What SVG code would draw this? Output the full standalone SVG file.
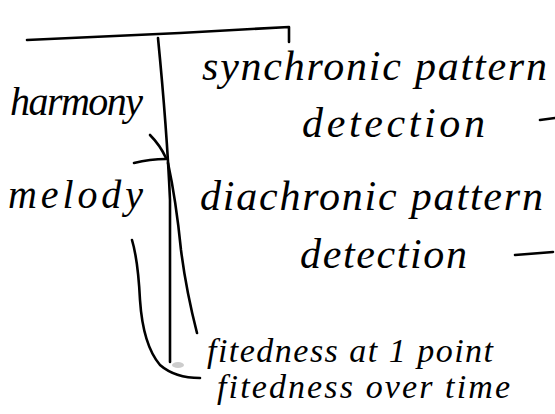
<svg xmlns="http://www.w3.org/2000/svg" width="555" height="414" viewBox="0 0 555 414">
<style>
.hand{font-family:"Liberation Serif","DejaVu Serif",serif;font-style:italic;fill:#000;}
.ln{fill:none;stroke:#000;stroke-width:2.6;stroke-linecap:round;stroke-linejoin:round;}
</style>
<rect width="555" height="414" fill="#fff"/>
<g id="connectors">
<path class="ln" d="M27,40 Q100,37 180,33 L289,27 L289,42"/>
<path class="ln" d="M158,38 Q167,130 170,200 L170,362"/>
<path class="ln" d="M150,135 Q160,145 166,158"/>
<path class="ln" d="M134,163 Q150,159 166,159"/>
<path class="ln" d="M168,163 Q176,200 181,250 Q186,290 197,333"/>
<path class="ln" d="M132,240 Q138,260 140,300 Q143,345 160,365 Q175,378 200,378"/>
<path class="ln" d="M540,120 L555,118"/>
<path class="ln" d="M515,255 L553,252"/>
<ellipse cx="178" cy="365" rx="6" ry="3" fill="#999" opacity="0.5"/>
</g>
<g id="harmony"><text class="hand" x="10" y="115" font-size="40" textLength="133" lengthAdjust="spacing">harmony</text></g>
<g id="melody"><text class="hand" x="8" y="208" font-size="40" textLength="135" lengthAdjust="spacing">melody</text></g>
<g id="synchronic">
<text class="hand" x="202" y="80" font-size="42" textLength="345" lengthAdjust="spacing">synchronic pattern</text>
<text class="hand" x="302" y="137" font-size="42" textLength="183" lengthAdjust="spacing">detection</text>
</g>
<g id="diachronic">
<text class="hand" x="200" y="210" font-size="42" textLength="343" lengthAdjust="spacing">diachronic pattern</text>
<text class="hand" x="300" y="268" font-size="42" textLength="167" lengthAdjust="spacing">detection</text>
</g>
<g id="fit-point"><text class="hand" x="207" y="362" font-size="34" textLength="286" lengthAdjust="spacing">fitedness at 1 point</text></g>
<g id="fit-time"><text class="hand" x="217" y="398" font-size="34" textLength="293" lengthAdjust="spacing">fitedness over time</text></g>
</svg>
